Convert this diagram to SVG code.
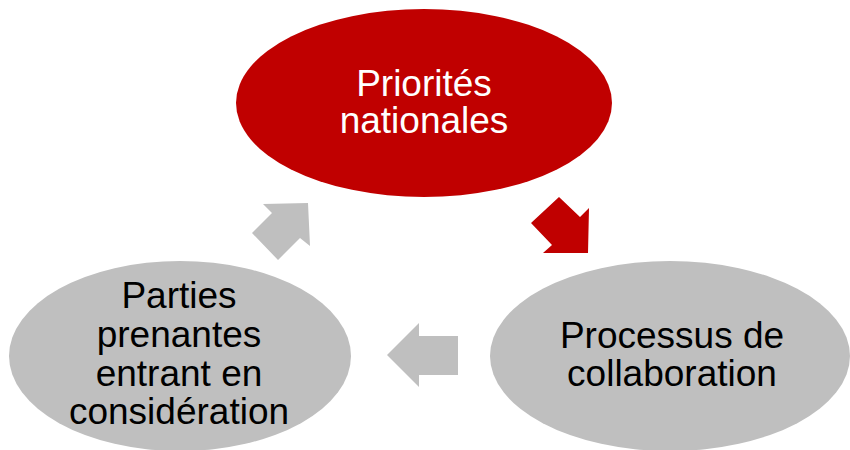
<svg xmlns="http://www.w3.org/2000/svg" width="850" height="450" viewBox="0 0 850 450">
<style>
text{font-family:"Liberation Sans",Arial,sans-serif;font-size:37px;text-anchor:middle}
.red{fill:#C00000}
.grey{fill:#BFBFBF}
.w{fill:#FFFFFF}
.k{fill:#000000}
</style>
<rect width="850" height="450" fill="#FFFFFF"/>
<g id="connectors">
<polygon class="red" points="559,197 580,217 589,208 588,253 543,253 552,245 531,223"/>
<polygon class="grey" points="387,355 419,323 419,336 458,336 458,375 419,375 419,387"/>
<polygon class="grey" points="308,203 310,246 300,238 278,260 252,233 272,213 263,204"/>
</g>
<g id="node-priorites">
<ellipse class="red" cx="424" cy="103" rx="188" ry="94"/>
<text class="w" x="424" y="96">Priorités</text>
<text class="w" x="424" y="133">nationales</text>
</g>
<g id="node-processus">
<ellipse class="grey" cx="670" cy="356" rx="180" ry="95"/>
<text class="k" x="672" y="348">Processus de</text>
<text class="k" x="672" y="386">collaboration</text>
</g>
<g id="node-parties">
<ellipse class="grey" cx="180" cy="356" rx="171" ry="95"/>
<text class="k" x="179" y="308">Parties</text>
<text class="k" x="179" y="347">prenantes</text>
<text class="k" x="179" y="386">entrant en</text>
<text class="k" x="179" y="424">considération</text>
</g>
</svg>
